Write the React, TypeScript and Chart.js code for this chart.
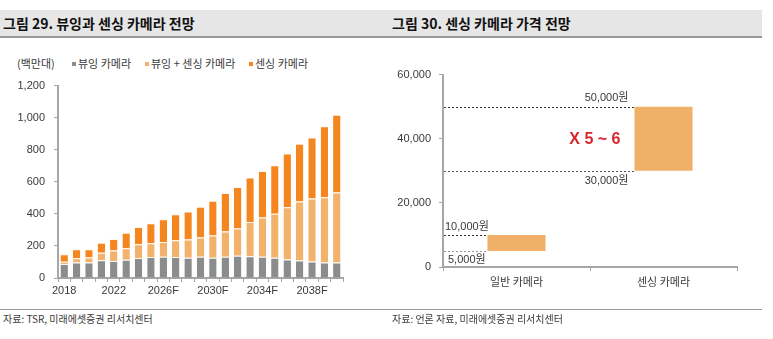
import React, { useEffect, useRef } from "react";
import { Chart, registerables } from "chart.js";

Chart.register(...registerables);

// ---- Left chart data (백만대) ----
const years = [
  "2018", "2019", "2020", "2021", "2022", "2023", "2024F", "2025F", "2026F", "2027F", "2028F", "2029F",
  "2030F", "2031F", "2032F", "2033F", "2034F", "2035F", "2036F", "2037F", "2038F", "2039F", "2040F",
];
const viewingCam = [88, 96, 96, 111, 106, 114, 125, 131, 132, 131, 126, 132, 126, 132, 138, 136, 132, 127, 115, 109, 103, 97, 97];
const viewingSensingCam = [14, 27, 32, 47, 65, 71, 85, 86, 93, 104, 114, 120, 139, 158, 170, 214, 245, 273, 327, 368, 393, 407, 436];
const sensingCam = [46, 57, 52, 62, 73, 97, 108, 125, 141, 162, 174, 193, 217, 240, 259, 277, 291, 303, 334, 361, 381, 442, 485];
const leftTicks = [0, 200, 400, 600, 800, 1000, 1200];

// ---- Right chart data (원) ----
const priceCategories = ["일반 카메라", "센싱 카메라"];
const priceLow = [5000, 30000];
const priceHigh = [10000, 50000];
const multipleLabel = "X 5 ~ 6";

const FONT = "'Liberation Sans', 'Noto Sans CJK KR', Arial, sans-serif";
const KFONT = "'Noto Sans CJK KR', 'Liberation Sans', sans-serif";
const GREY = "#8a8c8e";
const LIGHT = "#f2b26c";
const ORANGE = "#f5861f";
const AXIS = "#a6a6a6";
const TXT = "#3a3a3a";

const fmt = (v: number) => v.toLocaleString("en-US");

function LeftChart() {
  const ref = useRef<HTMLCanvasElement>(null);
  useEffect(() => {
    const sep = "rgba(255,245,235,0.9)";
    const chart = new Chart(ref.current!, {
      type: "bar",
      data: {
        labels: years,
        datasets: [
          { label: "뷰잉 카메라", data: viewingCam, backgroundColor: GREY, borderColor: sep, borderWidth: { top: 1, left: 0, right: 0, bottom: 0 }, borderSkipped: false },
          { label: "뷰잉 + 센싱 카메라", data: viewingSensingCam, backgroundColor: LIGHT, borderColor: sep, borderWidth: { top: 1, left: 0, right: 0, bottom: 0 }, borderSkipped: false },
          { label: "센싱 카메라", data: sensingCam, backgroundColor: ORANGE, borderColor: sep, borderWidth: { top: 1, left: 0, right: 0, bottom: 0 }, borderSkipped: false },
        ],
      },
      options: {
        animation: false,
        responsive: false,
        layout: { padding: { top: 15, right: 47, left: 0, bottom: 0 } },
        plugins: { legend: { display: false }, tooltip: { enabled: false } },
        datasets: { bar: { barPercentage: 0.6, categoryPercentage: 1 } },
        scales: {
          x: {
            stacked: true,
            afterFit: (s: any) => { s.height = 22; },
            grid: { drawOnChartArea: false, drawTicks: true, tickLength: 4, color: AXIS, offset: true },
            border: { color: AXIS, width: 2 },
            ticks: {
              autoSkip: false,
              maxRotation: 0,
              padding: 2,
              color: TXT,
              font: { family: FONT, size: 11 },
              callback: (_v: any, i: number) => (i % 4 === 0 ? years[i] : ""),
            },
          },
          y: {
            stacked: true,
            min: 0,
            max: 1200,
            afterFit: (s: any) => { s.width = 58; },
            afterBuildTicks: (s: any) => { s.ticks = leftTicks.map((v) => ({ value: v })); },
            grid: { drawOnChartArea: false, drawTicks: true, tickLength: 4, color: AXIS },
            border: { color: AXIS, width: 2 },
            ticks: { padding: 9, color: TXT, font: { family: FONT, size: 11 }, callback: (v: any) => fmt(Number(v)) },
          },
        },
      },
    } as any);
    return () => chart.destroy();
  }, []);
  return <canvas ref={ref} width={390} height={230} style={{ position: "absolute", left: 0, top: 70, width: 390, height: 230 }} />;
}

function RightChart() {
  const ref = useRef<HTMLCanvasElement>(null);
  useEffect(() => {
    const annot = {
      id: "annot",
      afterDatasetsDraw(chart: any) {
        const { ctx, chartArea, scales } = chart;
        const y = scales.y;
        const meta = chart.getDatasetMeta(0);
        const bars = meta.data;
        const left = chartArea.left;
        const line = (val: number, x2: number, color: string) => {
          const py = Math.round(y.getPixelForValue(val)) + 0.5;
          ctx.save();
          ctx.strokeStyle = color;
          ctx.lineWidth = 1;
          ctx.setLineDash([2, 2]);
          ctx.beginPath();
          ctx.moveTo(left + 1, py);
          ctx.lineTo(x2, py);
          ctx.stroke();
          ctx.restore();
          return py;
        };
        const text = (s: string, x: number, yy: number, align: CanvasTextAlign, font: string, color: string) => {
          ctx.save();
          ctx.font = font;
          ctx.fillStyle = color;
          ctx.textAlign = align;
          ctx.textBaseline = "middle";
          ctx.fillText(s, x, yy);
          ctx.restore();
        };
        const f11 = `11px ${FONT}`;
        // first category (일반 카메라)
        const b0 = bars[0];
        const b0l = b0.x - b0.width / 2;
        const yHi0 = line(priceHigh[0], b0l, "#333333");
        const yLo0 = line(priceLow[0], b0l, "#9a9a9a");
        text(fmt(priceHigh[0]) + "원", left + 2, yHi0 - 9, "left", f11, TXT);
        text(fmt(priceLow[0]) + "원", left + 5, yLo0 + 8, "left", f11, TXT);
        // second category (센싱 카메라)
        const b1 = bars[1];
        const b1l = b1.x - b1.width / 2;
        const yHi1 = line(priceHigh[1], b1l, "#333333");
        const yLo1 = line(priceLow[1], b1l, "#555555");
        text(fmt(priceHigh[1]) + "원", b1l - 6, yHi1 - 10, "right", f11, TXT);
        text(fmt(priceLow[1]) + "원", b1l - 6, yLo1 + 9, "right", f11, TXT);
        text(multipleLabel, b1l - 14, (yHi1 + yLo1) / 2, "right", `bold 16px ${FONT}`, "#d9262b");
      },
    };
    const chart = new Chart(ref.current!, {
      type: "bar",
      data: {
        labels: priceCategories,
        datasets: [
          {
            label: "가격",
            data: priceLow.map((lo, i) => [lo, priceHigh[i]]),
            backgroundColor: "#f0b068",
            borderWidth: 0,
          },
        ],
      },
      options: {
        animation: false,
        responsive: false,
        layout: { padding: { top: 12, right: 23, left: 0, bottom: 0 } },
        plugins: { legend: { display: false }, tooltip: { enabled: false } },
        datasets: { bar: { barPercentage: 0.395, categoryPercentage: 1 } },
        scales: {
          x: {
            afterFit: (s: any) => { s.height = 28; },
            grid: { drawOnChartArea: false, drawTicks: true, tickLength: 4, color: AXIS, offset: true },
            border: { color: AXIS, width: 2 },
            ticks: { padding: 4, color: TXT, font: { family: KFONT, size: 11 } },
          },
          y: {
            min: 0,
            max: 60000,
            afterFit: (s: any) => { s.width = 63; },
            ticks: { stepSize: 20000, padding: 8, color: TXT, font: { family: FONT, size: 11 }, callback: (v: any) => fmt(Number(v)) },
            grid: { drawOnChartArea: false, drawTicks: true, tickLength: 4, color: AXIS },
            border: { color: AXIS, width: 2 },
          },
        },
      },
      plugins: [annot],
    } as any);
    return () => chart.destroy();
  }, []);
  return <canvas ref={ref} width={380} height={235} style={{ position: "absolute", left: 380, top: 60, width: 380, height: 235 }} />;
}

const legendItems = [
  { label: "뷰잉 카메라", color: GREY, x: 72 },
  { label: "뷰잉 + 센싱 카메라", color: LIGHT, x: 145 },
  { label: "센싱 카메라", color: ORANGE, x: 249 },
];

export default function App() {
  const band: React.CSSProperties = {
    position: "absolute",
    top: 10,
    height: 26,
    background: "#e6e6e6",
    borderBottom: "2px solid #9a9a9a",
  };
  const titleText: React.CSSProperties = {
    position: "absolute",
    top: 0,
    lineHeight: "26px",
    fontFamily: KFONT,
    fontWeight: 700,
    fontSize: 14,
    color: "#111",
    whiteSpace: "nowrap",
  };
  const small: React.CSSProperties = {
    position: "absolute",
    fontFamily: KFONT,
    fontSize: 11,
    color: TXT,
    whiteSpace: "nowrap",
    lineHeight: "14px",
  };
  return (
    <div style={{ position: "absolute", left: 0, top: 0, width: 773, height: 339, background: "#fff", overflow: "hidden" }}>
      <div style={{ ...band, left: 0, width: 388 }}>
        <div style={{ ...titleText, left: 3 }}>그림 29. 뷰잉과 센싱 카메라 전망</div>
      </div>
      <div style={{ ...band, left: 388, width: 374 }}>
        <div style={{ ...titleText, left: 4 }}>그림 30. 센싱 카메라 가격 전망</div>
      </div>

      <div style={{ ...small, left: 17, top: 56 }}>(백만대)</div>
      {legendItems.map((it) => (
        <div key={it.label} style={{ ...small, left: it.x, top: 56 }}>
          <span style={{ display: "inline-block", width: 4, height: 4, background: it.color, marginRight: 2, verticalAlign: "middle", position: "relative", top: -1 }} />
          {it.label}
        </div>
      ))}

      <LeftChart />
      <RightChart />

      <div style={{ position: "absolute", left: 0, top: 309, width: 762, height: 1, background: "#9a9a9a" }} />
      <div style={{ ...small, fontSize: 10, left: 3, top: 312 }}>자료: TSR, 미래에셋증권 리서치센터</div>
      <div style={{ ...small, fontSize: 10, left: 392, top: 312 }}>자료: 언론 자료, 미래에셋증권 리서치센터</div>
    </div>
  );
}
